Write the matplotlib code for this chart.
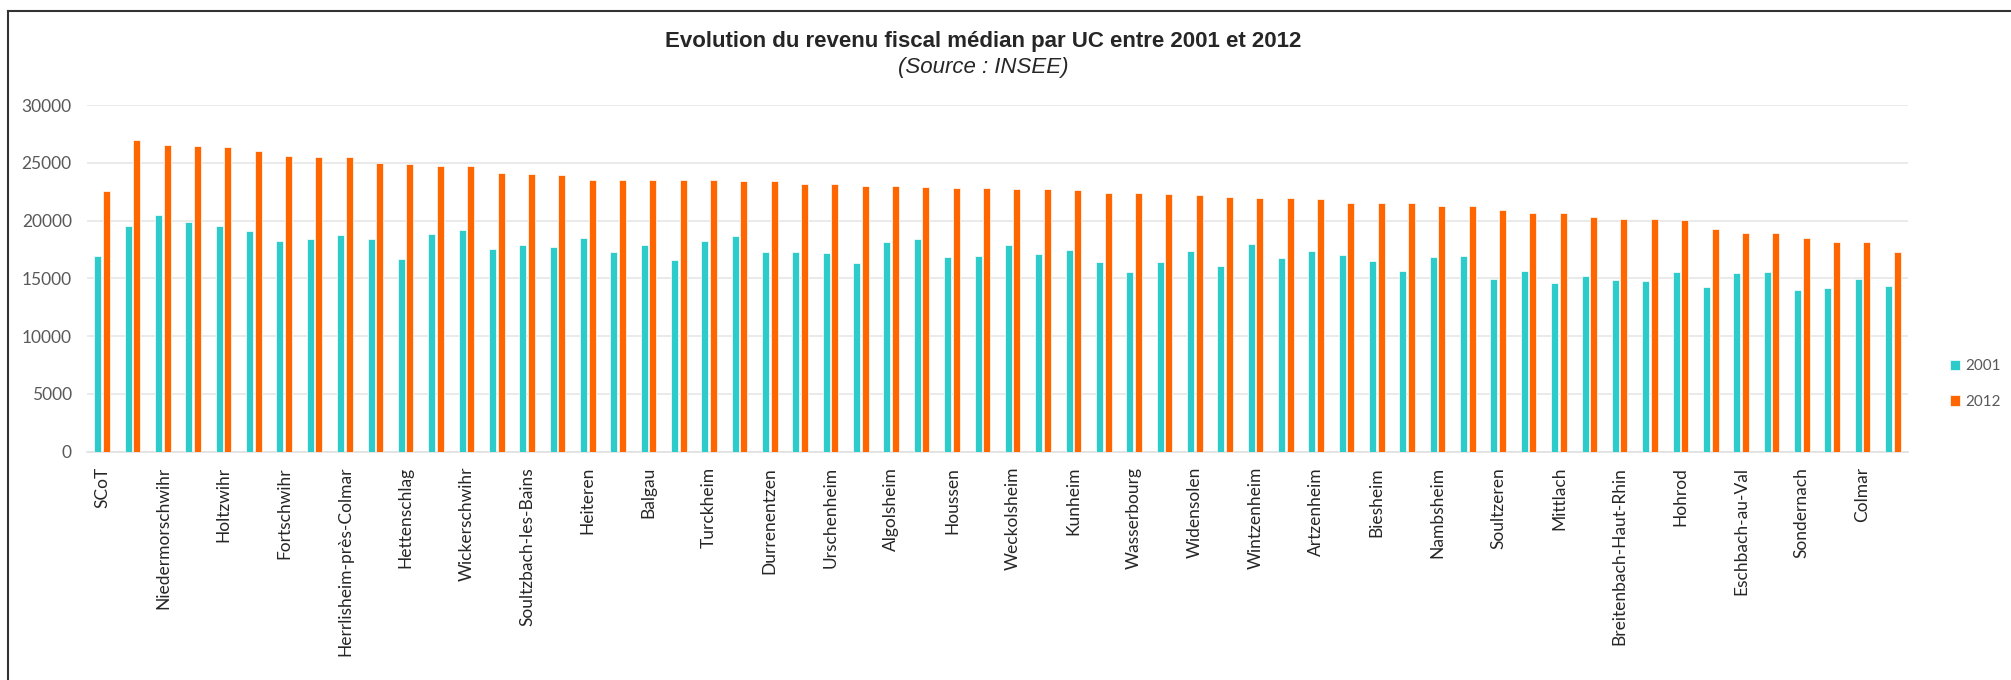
import numpy as np
import matplotlib
matplotlib.use("Agg")
import matplotlib.pyplot as plt
from matplotlib.lines import Line2D

# labels visible on the axis (one commune out of two is labelled)
communes = ["SCoT", "Niedermorschwihr", "Holtzwihr", "Fortschwihr",
            "Herrlisheim-près-Colmar", "Hettenschlag", "Wickerschwihr",
            "Soultzbach-les-Bains", "Heiteren", "Balgau", "Turckheim",
            "Durrenentzen", "Urschenheim", "Algolsheim", "Houssen",
            "Weckolsheim", "Kunheim", "Wasserbourg", "Widensolen",
            "Wintzenheim", "Artzenheim", "Biesheim", "Nambsheim",
            "Soultzeren", "Mittlach", "Breitenbach-Haut-Rhin", "Hohrod",
            "Eschbach-au-Val", "Sondernach", "Colmar"]

rev_2001 = [16960, 19490, 20500, 19840, 19490, 19120, 18230, 18400, 18770, 18400,
            16670, 18860, 19210, 17560, 17850, 17680, 18490, 17300, 17850, 16590,
            18200, 18690, 17300, 17300, 17220, 16330, 18140, 18400, 16840, 16930,
            17850, 17130, 17480, 16380, 15580, 16380, 17390, 16040, 17940, 16760,
            17390, 17020, 16500, 15660, 16840, 16930, 14940, 15660, 14570, 15200,
            14860, 14770, 15550, 14280, 15460, 15550, 14020, 14200, 14940, 14370]

rev_2012 = [22550, 26950, 26580, 26490, 26400, 26030, 25570, 25480, 25480, 24960,
            24850, 24760, 24760, 24100, 24010, 23930, 23550, 23550, 23470, 23470,
            23470, 23380, 23380, 23180, 23180, 23010, 23010, 22890, 22800, 22800,
            22720, 22720, 22630, 22340, 22340, 22260, 22170, 22080, 21970, 21970,
            21880, 21510, 21510, 21510, 21220, 21220, 20880, 20670, 20670, 20300,
            20160, 20130, 20010, 19290, 18920, 18920, 18460, 18110, 18110, 17280]

years = ["2001", "2012"]
teal = "#2ECBCB"
orange = "#FF6600"
grey = "#595959"

fig = plt.figure(figsize=(20.11, 6.8), dpi=100)
ax = fig.add_axes([87 / 2011, 1 - 451.6 / 680, 1821 / 2011, 346.6 / 680])

x = np.arange(len(rev_2001))
w = 0.23
ax.bar(x - 0.142, rev_2001, w, color=teal, edgecolor="white", linewidth=0.5, label=years[0], zorder=3)
ax.bar(x + 0.142, rev_2012, w, color=orange, edgecolor="white", linewidth=0.5, label=years[1], zorder=3)

ax.set_xlim(-0.5, len(x) - 0.5)
ax.set_ylim(0, 30000)
ax.set_yticks(range(0, 30001, 5000))
ax.yaxis.grid(True, color="#E6E6E6", linewidth=1.2, zorder=0)
ax.set_axisbelow(True)
for s in ["top", "right", "left"]:
    ax.spines[s].set_visible(False)
ax.spines["bottom"].set_color("#E0E0E0")
ax.spines["bottom"].set_linewidth(1.2)

ax.set_xticks(x[::2])
ax.set_xticklabels(communes, rotation=90, family="Lato", fontsize=12.5, color="#262626")
ax.tick_params(axis="x", length=0, pad=11)
ax.tick_params(axis="y", length=0, pad=11, labelsize=12.5, labelcolor=grey)
for t in ax.get_yticklabels():
    t.set_family("Lato")

fig.text(0.489, 1 - 42 / 680, "Evolution du revenu fiscal médian par UC entre 2001 et 2012",
         ha="center", va="center", family="Liberation Sans", weight="bold",
         fontsize=16, color="#262626")
fig.text(0.489, 1 - 68 / 680, "(Source : INSEE)", ha="center", va="center",
         family="Liberation Sans", style="italic", fontsize=16, color="#262626")

leg = fig.legend(loc="center left", bbox_to_anchor=(1936 / 2011, 1 - 384 / 680),
                 frameon=False, handlelength=0.7, handleheight=0.7, handletextpad=0.3,
                 labelspacing=1.4, prop={"family": "Lato", "size": 11})
for t in leg.get_texts():
    t.set_color(grey)

# chart frame (left and top edges visible)
fig.add_artist(Line2D([8 / 2011, 8 / 2011], [0, 1 - 11 / 680], color="#333333", lw=1.5))
fig.add_artist(Line2D([8 / 2011, 1], [1 - 11 / 680, 1 - 11 / 680], color="#333333", lw=1.5))

fig.savefig("out.png", dpi=100)
